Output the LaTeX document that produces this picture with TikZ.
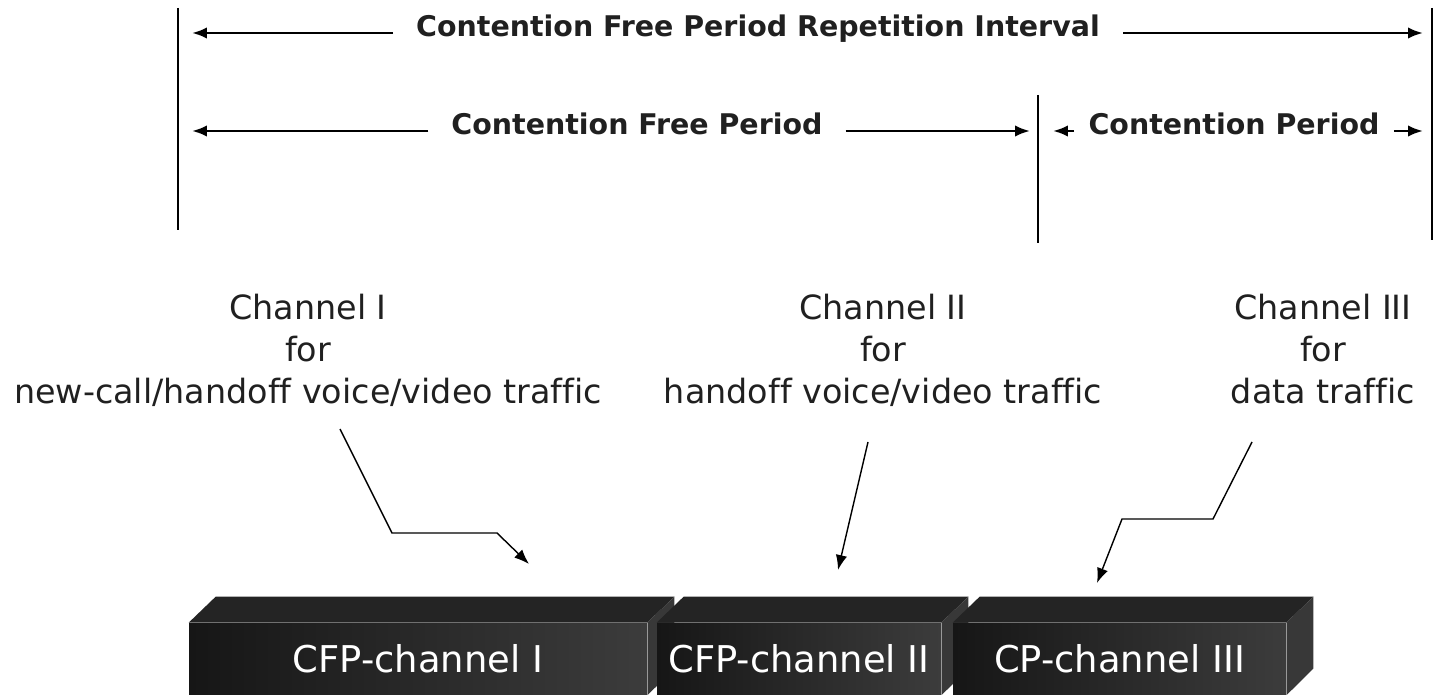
\documentclass[tikz,border=0pt]{standalone}
\usepackage{fontspec}
\setmainfont[Ligatures=NoCommon]{DejaVu Sans}
\usepackage{xcolor}
\usetikzlibrary{arrows.meta}
\usetikzlibrary{positioning}
\usetikzlibrary{calc}

\definecolor{inkgray}{HTML}{202020}
\definecolor{frontleft}{HTML}{161616}
\definecolor{frontright}{HTML}{3c3c3c}
\definecolor{topgray}{HTML}{242424}
\definecolor{sidegray}{HTML}{383838}

\tikzset{
    dimlabel/.style={font=\fontsize{16.2}{19}\selectfont\bfseries, text=inkgray, inner xsep=13pt, inner ysep=0pt},
    dimarrow/.style={draw=black, line width=1.5pt, -{Latex[length=8.5pt,width=6.5pt]}},
    bound/.style={draw=black, line width=1.1pt},
    chanlabel/.style={font=\fontsize{19}{23.8}\selectfont, text=inkgray, align=center, inner sep=0pt},
    chanarrow/.style={draw=black, line width=0.8pt, -{Latex[length=8.5pt,width=6.5pt]}},
    frontface/.style={left color=frontleft, right color=frontright, text=white, inner sep=0pt,
        minimum height=1.44cm, font=\fontsize{21}{25}\selectfont},
    topface/.style={fill=topgray},
    sideface/.style={fill=sidegray},
    edgelight/.style={draw=black!40, line width=0.6pt}
}

\begin{document}
\begin{tikzpicture}[x=0.02cm,y=-0.02cm]
    \useasboundingbox (0,0) rectangle (1436,695);

    % period boundaries
    \coordinate (lineAt) at (178,8);
    \coordinate (lineAb) at (178,230);
    \coordinate (lineBt) at (1038,95);
    \coordinate (lineBb) at (1038,243);
    \coordinate (lineCt) at (1432,8);
    \coordinate (lineCb) at (1432,240);
    \draw[bound] (lineAt) -- (lineAb);
    \draw[bound] (lineBt) -- (lineBb);
    \draw[bound] (lineCt) -- (lineCb);

    % repetition interval
    \node[dimlabel, anchor=base] (cfpri) at (758,37) {Contention Free Period Repetition Interval};
    \coordinate (cfpriAxis) at ($(cfpri.base)+(0,-4)$);
    \draw[dimarrow, shorten >=0.28cm] (cfpriAxis -| cfpri.west) -- (cfpriAxis -| lineAt);
    \draw[dimarrow, shorten >=0.18cm] (cfpriAxis -| cfpri.east) -- (cfpriAxis -| lineCt);

    % contention free period / contention period
    \node[dimlabel, anchor=base] (cfp) at (637,135) {Contention Free Period};
    \coordinate (cfpAxis) at ($(cfp.base)+(0,-4)$);
    \draw[dimarrow, shorten >=0.28cm] (cfpAxis -| cfp.west) -- (cfpAxis -| lineAt);
    \draw[dimarrow, shorten >=0.16cm] (cfpAxis -| cfp.east) -- (cfpAxis -| lineBt);

    \node[dimlabel, anchor=base, inner xsep=8pt] (cp) at (1234,135) {Contention Period};
    \draw[dimarrow, shorten >=0.3cm] (cfpAxis -| cp.west) -- (cfpAxis -| lineBt);
    \draw[dimarrow, shorten >=0.18cm] (cfpAxis -| cp.east) -- (cfpAxis -| lineCt);

    % channel descriptions
    \node[chanlabel, anchor=north] (chI) at (308,294) {Channel I\\for\\new-call/handoff voice/video traffic};
    \node[chanlabel, anchor=north] (chII) at (883,294) {Channel II\\for\\handoff voice/video traffic};
    \node[chanlabel, anchor=north] (chIII) at (1323,294) {Channel III\\for\\data traffic};

    % channel blocks
    \foreach \nm/\cx/\bw/\txt in {cfpI/418/9.16/{CFP-channel I}, cfpII/799/5.68/{CFP-channel II}, cpIII/1119.5/6.66/{CP-channel III}}{
        \node[frontface, minimum width=\bw cm] (\nm) at (\cx,659) {\txt};
        \fill[topface] (\nm.north west) -- ++(27,-26) -- ([shift={(27,-26)}]\nm.north east) -- (\nm.north east) -- cycle;
        \fill[sideface] (\nm.north east) -- ++(27,-26) -- ++(0,72) -- (\nm.south east) -- cycle;
        \draw[edgelight] (\nm.north east) -- (\nm.south east);
    }

    % pointers from descriptions to blocks
    \coordinate (chI-from) at (340,429);
    \coordinate (chI-to) at (529,564);
    \coordinate (chII-from) at (868,442);
    \coordinate (chII-to) at (838,570);
    \coordinate (chIII-from) at (1252,442);
    \coordinate (chIII-to) at (1097,583);
    \draw[chanarrow] (chI-from) -- ++(52,104) -- ++(105,0) -- (chI-to);
    \draw[chanarrow] (chII-from) -- (chII-to);
    \draw[chanarrow] (chIII-from) -- ++(-39,77) -- ++(-91,0) -- (chIII-to);
\end{tikzpicture}
\end{document}
